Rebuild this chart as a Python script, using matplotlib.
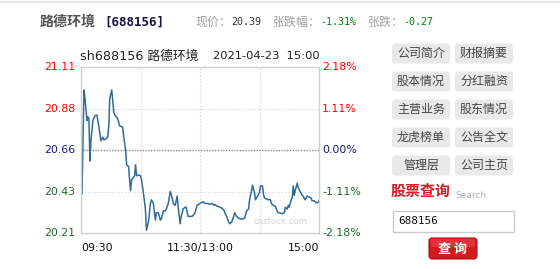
import matplotlib
matplotlib.use("Agg")
import matplotlib.pyplot as plt
from matplotlib.patches import FancyBboxPatch, Rectangle
import numpy as np

# ---------------- data ----------------
stock_name = "路德环境"
stock_code = "688156"
trade_date = "2021-04-23  15:00"
prev_close = 20.66
last_price = "20.39"
pct_change = "-1.31%"
abs_change = "-0.27"

minutes = [0, 1, 3, 4, 6, 7, 8, 9, 10, 12, 14, 16, 17, 19, 20, 22, 23, 25, 27, 28,
           29, 31, 33, 34, 37, 39, 42, 43, 45, 46, 48, 49, 50, 51, 52, 54, 55, 56, 58, 60,
           61, 63, 65, 66, 68, 70, 71, 73, 75, 76, 78, 80, 81, 83, 85, 86, 88, 90, 92, 93,
           95, 97, 98, 100, 101, 103, 105, 106, 108, 112, 113, 115, 117, 120, 123, 125, 128, 130, 132, 134,
           135, 137, 138, 142, 144, 145, 147, 148, 150, 152, 154, 155, 157, 159, 162, 165, 167, 169, 170, 172,
           173, 175, 176, 178, 180, 181, 183, 184, 185, 187, 189, 191, 192, 194, 196, 198, 199, 203, 205, 206,
           208, 209, 210, 212, 213, 214, 215, 216, 218, 219, 221, 223, 224, 226, 228, 230, 232, 233, 235, 237,
           239, 240]
prices = [20.64, 20.42, 20.985, 20.94, 20.82, 20.84, 20.83, 20.60, 20.71, 20.82, 20.845, 20.85, 20.82, 20.75, 20.71, 20.73, 20.715, 20.72, 20.73, 20.79,
          20.94, 20.985, 20.87, 20.85, 20.83, 20.79, 20.785, 20.735, 20.66, 20.58, 20.57, 20.50, 20.44, 20.50, 20.505, 20.52, 20.58, 20.52, 20.525, 20.52,
          20.50, 20.425, 20.335, 20.225, 20.27, 20.37, 20.39, 20.37, 20.28, 20.32, 20.32, 20.28, 20.285, 20.33, 20.33, 20.34, 20.37, 20.435, 20.40, 20.37,
          20.36, 20.41, 20.35, 20.26, 20.30, 20.34, 20.35, 20.35, 20.30, 20.30, 20.305, 20.32, 20.36, 20.37, 20.38, 20.37, 20.37, 20.365, 20.37, 20.36,
          20.365, 20.355, 20.355, 20.345, 20.335, 20.32, 20.30, 20.28, 20.26, 20.27, 20.30, 20.32, 20.30, 20.29, 20.285, 20.29, 20.33, 20.34, 20.39, 20.44,
          20.47, 20.425, 20.39, 20.41, 20.43, 20.465, 20.465, 20.42, 20.40, 20.395, 20.39, 20.39, 20.37, 20.36, 20.355, 20.325, 20.32, 20.315, 20.32, 20.35,
          20.34, 20.36, 20.35, 20.39, 20.40, 20.465, 20.415, 20.44, 20.48, 20.455, 20.435, 20.415, 20.41, 20.39, 20.41, 20.405, 20.40, 20.385, 20.385, 20.375,
          20.375, 20.385]

left_labels = ["21.11", "20.88", "20.66", "20.43", "20.21"]
left_values = [21.11, 20.88, 20.66, 20.43, 20.21]
right_labels = ["2.18%", "1.11%", "0.00%", "-1.11%", "-2.18%"]
label_colors = ["#ff0000", "#ff0000", "#1a1a80", "#22662a", "#22662a"]
time_labels = ["09:30", "11:30/13:00", "15:00"]
time_positions = [0, 120, 240]

buttons = [["公司简介", "财报摘要"], ["股本情况", "分红融资"], ["主营业务", "股东情况"],
           ["龙虎榜单", "公告全文"], ["管理层", "公司主页"]]

CJK = ["Noto Sans CJK SC", "DejaVu Sans"]
W, H = 560, 269

fig = plt.figure(figsize=(W / 100, H / 100), dpi=100)
fig.patch.set_facecolor("white")

# background pixel-coordinate axes
bg = fig.add_axes([0, 0, 1, 1])
bg.set_xlim(0, W)
bg.set_ylim(H, 0)
bg.axis("off")

def pt(px):
    return px * 72 / 100

# top line
bg.plot([0, W], [1.5, 1.5], color="#e2e2e2", lw=1.2)

# header
bg.text(40, 22, stock_name, family=CJK, fontsize=pt(14), fontweight="bold", color="#555555", va="center")
bg.text(104, 22, "[" + stock_code + "]", family="DejaVu Sans Mono", fontsize=pt(12.5), fontweight="bold",
        color="#1a1040", va="center")
bg.text(195, 22, "现价：", family=CJK, fontsize=pt(12), color="#a0a0a0", va="center")
bg.text(231, 22, last_price, family="DejaVu Sans Mono", fontsize=pt(10), color="#333333", va="center")
bg.text(273, 22, "张跌幅：", family=CJK, fontsize=pt(12), color="#a0a0a0", va="center")
bg.text(320, 22, pct_change, family="DejaVu Sans Mono", fontsize=pt(10), color="#008000", va="center")
bg.text(368, 22, "张跌：", family=CJK, fontsize=pt(12), color="#a0a0a0", va="center")
bg.text(403, 22, abs_change, family="DejaVu Sans Mono", fontsize=pt(10), color="#008000", va="center")

# chart titles
bg.text(80, 56, "sh" + stock_code + " " + stock_name, family=["DejaVu Sans", "Noto Sans CJK SC"],
        fontsize=pt(12.8), color="#222222", va="center")
bg.text(320, 56, trade_date, family="DejaVu Sans", fontsize=pt(11.5), color="#222222", va="center", ha="right")

# axis labels
y_top, y_bot = 67, 233
for lbl, val, rl, c in zip(left_labels, left_values, right_labels, label_colors):
    y = y_top + (left_values[0] - val) / (left_values[0] - left_values[-1]) * (y_bot - y_top)
    bg.text(75, y, lbl, family="DejaVu Sans", fontsize=pt(11), color=c, va="center", ha="right")
    bg.text(322, y, rl, family="DejaVu Sans", fontsize=pt(11), color=c, va="center", ha="left")

x_l, x_r = 81, 319
for lbl, tpos in zip(time_labels, time_positions):
    x = x_l + tpos / 240 * (x_r - x_l)
    ha = "left" if tpos == 0 else ("right" if tpos == 240 else "center")
    bg.text(x, 248, lbl, family="DejaVu Sans", fontsize=pt(11), color="#111111", va="center", ha=ha)

# right panel buttons
col_x = [392, 455]
bw, bh = 58, 20
for r, row in enumerate(buttons):
    y0 = 43.5 + r * 28
    for c, txt in enumerate(row):
        bg.add_patch(FancyBboxPatch((col_x[c] + 2, y0 + 2), bw - 4, bh - 4,
                                    boxstyle="round,pad=2,rounding_size=3",
                                    fc="#e9e9e9", ec="none"))
        bg.text(col_x[c] + bw / 2, y0 + bh / 2, txt, family=CJK, fontsize=pt(12),
                color="#444444", ha="center", va="center")

bg.text(391, 191, "股票查询", family=CJK, fontsize=pt(15), fontweight="bold", color="#d81e28", va="center")
bg.text(455, 196, "Search", family="DejaVu Sans", fontsize=pt(9), color="#b0b0b0", va="center")

bg.add_patch(Rectangle((392.5, 210.5), 121, 21, fc="white", ec="#cccccc", lw=1))
bg.text(398, 221, stock_code, family="DejaVu Sans Mono", fontsize=pt(11), color="#111111", va="center")

bg.add_patch(FancyBboxPatch((431, 240), 44, 17, boxstyle="round,pad=2,rounding_size=3",
                            fc="#d01a20", ec="#b01015", lw=0.8))
bg.add_patch(Rectangle((431, 239), 44, 8, fc="#e0343a", ec="none"))
bg.text(453, 248.5, "查 询", family=CJK, fontsize=pt(13), fontweight="bold", color="white",
        ha="center", va="center")

# chart axes
ax = fig.add_axes([x_l / W, 1 - y_bot / H, (x_r - x_l) / W, (y_bot - y_top) / H])
ax.set_xlim(0, 240)
ax.set_ylim(left_values[-1], left_values[0])
ax.set_xticks([])
ax.set_yticks([])
for s in ax.spines.values():
    s.set_color("#d0d0d0")
    s.set_linewidth(1)
for v in [left_values[1], left_values[3]]:
    ax.axhline(v, color="#dddddd", lw=0.8, ls=(0, (1.5, 1.5)))
for t in [60, 120, 180]:
    ax.axvline(t, color="#dddddd", lw=0.8, ls=(0, (1.5, 1.5)))
ax.axhline(prev_close, color="#888888", lw=1.0, ls=(0, (1, 1)))
ax.text(0.95, 0.07, "cnstock.com", transform=ax.transAxes, family="DejaVu Sans", fontsize=pt(8.5),
        color="#d4d4d4", ha="right", va="center")
ax.plot(minutes, prices, color="#336b98", lw=1.1)

fig.savefig("out.png", dpi=100, facecolor="white")
